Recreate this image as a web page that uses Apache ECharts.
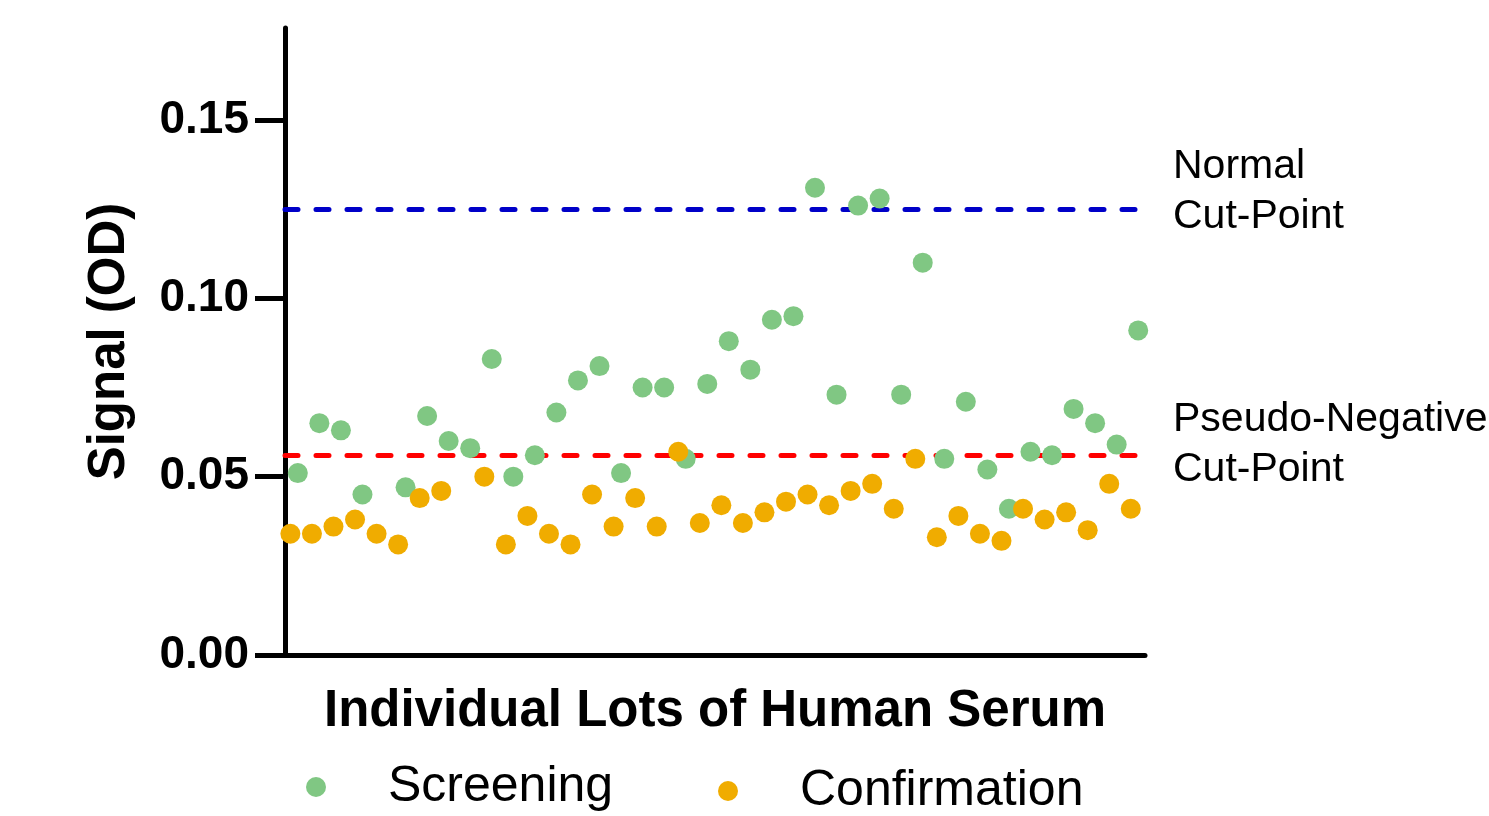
<!DOCTYPE html>
<html>
<head>
<meta charset="utf-8">
<script src="https://cdn.jsdelivr.net/npm/echarts@6/dist/echarts.min.js"></script>
<style>html,body{margin:0;padding:0;background:#fff}#c{width:1489px;height:816px}</style>
</head>
<body>
<div id="c"></div>
<script>
// Lot index 0..39; null = no point drawn for that lot
const screening = [0.051,0.065,0.063,0.045,null,0.047,0.067,0.060,0.058,0.083,
  0.050,0.056,0.068,0.077,0.081,0.051,0.075,0.075,0.055,0.076,
  0.088,0.080,0.094,0.095,0.131,0.073,0.126,0.128,0.073,0.110,
  0.055,0.071,0.052,0.041,0.057,0.056,0.069,0.065,0.059,0.091];
const confirmation = [0.034,0.034,0.036,0.038,0.034,0.031,0.044,0.046,null,0.050,
  0.031,0.039,0.034,0.031,0.045,0.036,0.044,0.036,0.057,0.037,
  0.042,0.037,0.040,0.043,0.045,0.042,0.046,0.048,0.041,0.055,
  0.033,0.039,0.034,0.032,0.041,0.038,0.040,0.035,0.048,0.041];
const cutPoints = [
  {name: 'Normal\nCut-Point', value: 0.125},
  {name: 'Pseudo-Negative\nCut-Point', value: 0.056}
];
const yTicks = [0, 0.05, 0.10, 0.15];
const seriesNames = ['Screening', 'Confirmation'];
const xTitle = 'Individual Lots of Human Serum';
const yTitle = 'Signal (OD)';

const FONT = 'Liberation Sans, Arial, sans-serif';
const GREEN = '#80C783', ORANGE = '#F0AC00';
const screeningOffset = 0.345;

function toPts(arr, off) {
  const out = [];
  arr.forEach((v, i) => { if (v !== null) out.push([i + off, v]); });
  return out;
}

const chart = echarts.init(document.getElementById('c'), null, {renderer: 'canvas'});
chart.setOption({
  animation: false,
  backgroundColor: '#fff',
  grid: {left: 285, right: 344, top: 28, bottom: 161, containLabel: false},
  xAxis: {
    type: 'value', min: -0.25, max: 39.66,
    name: xTitle, nameLocation: 'middle', nameGap: 31,
    nameTextStyle: {fontFamily: FONT, fontWeight: 'bold', fontSize: 51, color: '#000', verticalAlign: 'top'},
    axisLine: {show: true, onZero: false, lineStyle: {color: '#000', width: 5}},
    axisTick: {show: false}, axisLabel: {show: false}, splitLine: {show: false}
  },
  yAxis: {
    type: 'value', min: 0, max: 0.1758, interval: 0.05,
    name: yTitle, nameLocation: 'middle', nameGap: 150,
    nameTextStyle: {fontFamily: FONT, fontWeight: 'bold', fontSize: 51, color: '#000'},
    axisLine: {show: true, onZero: false, lineStyle: {color: '#000', width: 5}},
    axisTick: {show: true, length: 30, lineStyle: {color: '#000', width: 5}, customValues: yTicks},
    axisLabel: {show: true, margin: 36, fontFamily: FONT, fontWeight: 'bold', fontSize: 46, color: '#000',
      customValues: yTicks, formatter: v => v.toFixed(2)},
    splitLine: {show: false}
  },
  legend: [
    {data: [seriesNames[0]], left: 301, top: 757, icon: 'circle', itemWidth: 20, itemHeight: 20,
     textStyle: {fontFamily: FONT, fontSize: 50, color: '#000', padding: [0, 0, 0, 57]}},
    {data: [seriesNames[1]], left: 713, top: 761, icon: 'circle', itemWidth: 20, itemHeight: 20,
     textStyle: {fontFamily: FONT, fontSize: 50, color: '#000', padding: [0, 0, 0, 57]}}
  ],
  series: [
    {
      type: 'line', data: [], silent: true, z: 1,
      markLine: {
        silent: true, symbol: ['none', 'none'], z: 1, precision: 4,
        data: cutPoints.map((c, i) => ({
          yAxis: c.value, name: c.name,
          lineStyle: {color: i === 0 ? '#0000C8' : '#FF0000', width: 5, type: [13, 18], cap: 'round'},
          label: {show: true, position: 'end', distance: 28, formatter: c.name,
            fontFamily: FONT, fontSize: 41, color: '#000', lineHeight: 50, align: 'left',
            offset: [0, i === 0 ? -17 : -11]}
        }))
      }
    },
    {name: seriesNames[0], type: 'scatter', data: toPts(screening, screeningOffset), symbol: 'circle', symbolSize: 20,
     itemStyle: {color: GREEN, opacity: 1}, z: 3},
    {name: seriesNames[1], type: 'scatter', data: toPts(confirmation, 0), symbol: 'circle', symbolSize: 20,
     itemStyle: {color: ORANGE, opacity: 1}, z: 4}
  ]
});
</script>
</body>
</html>
